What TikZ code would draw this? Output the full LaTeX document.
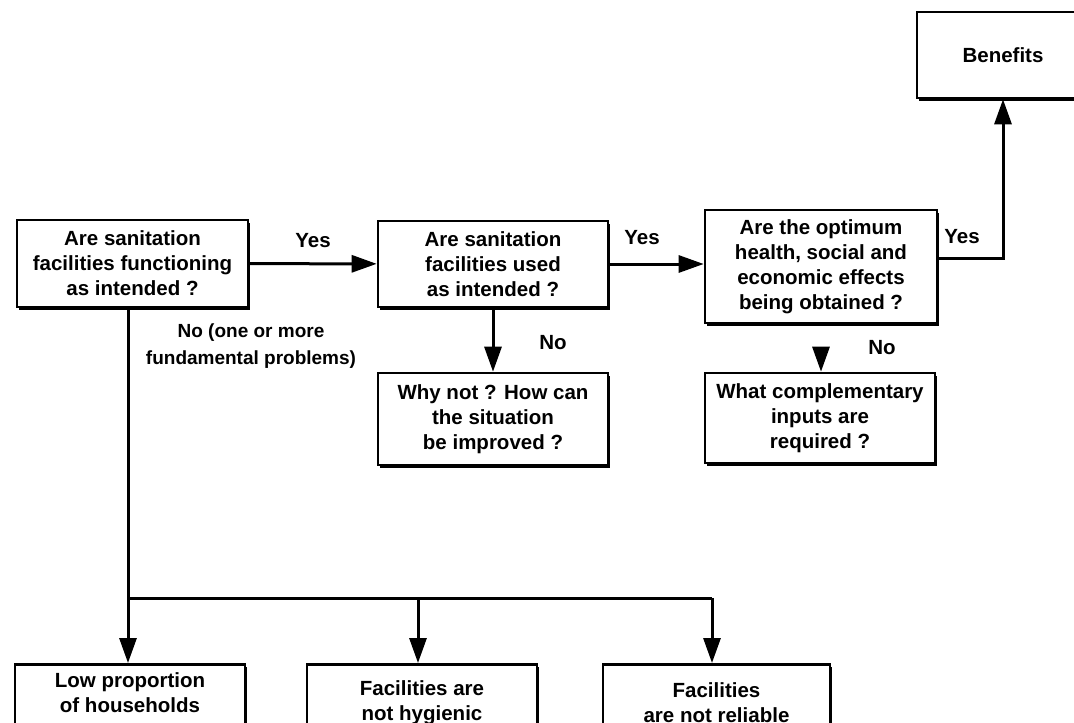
\documentclass[tikz,border=0pt]{standalone}
\usepackage{fontspec}
\setmainfont{Liberation Sans}
\usetikzlibrary{arrows.meta,shadows}

\begin{document}
\begin{tikzpicture}[x=1pt,y=-1pt,
  txt/.style={font=\bfseries\fontsize{20.5}{25}\selectfont,align=center,inner sep=0pt},
  box/.style={txt,draw,fill=white,line width=2.6pt,
    drop shadow={shadow xshift=2pt,shadow yshift=-3pt,fill=black,opacity=1}},
  bus/.style={line width=3pt},
  arr/.style={line width=3pt,-{Triangle[length=25pt,width=17pt]}}
]
\useasboundingbox (0,0) rectangle (1074,723);
\clip (0,0) rectangle (1074,723);

% decision boxes
\node[box,minimum width=231pt,minimum height=87pt] (A) at (132.5,263.5)
  {Are sanitation\\facilities functioning\\as intended ?};
\node[box,minimum width=230pt,minimum height=86pt] (B) at (493,264)
  {Are sanitation\\facilities used\\as intended ?};
\node[box,minimum width=232pt,minimum height=113pt] (C) at (821,266.5)
  {Are the optimum\\health, social and\\economic effects\\being obtained ?};
\node[box,minimum width=230pt,minimum height=92pt] (D) at (493,419)
  {Why not ? How can\\the situation\\be improved ?};
\node[box,minimum width=230pt,minimum height=90pt] (E) at (820,418)
  {What complementary\\inputs are\\required ?};
\node[box,minimum width=172pt,minimum height=86pt] (Ben) at (1003,55)
  {Benefits};

% problem boxes along the bottom edge
\node[box,anchor=north,minimum width=230pt,minimum height=120pt] (L1) at (130,663) {};
\node[txt] (t1) at (130,693) {Low proportion\\of households};
\node[box,anchor=north,minimum width=230pt,minimum height=120pt] (L2) at (422,663) {};
\node[txt] (t2) at (422,703) {Facilities are\\not hygienic};
\node[box,anchor=north,minimum width=227pt,minimum height=120pt] (L3) at (716.5,663) {};
\node[txt] (t3) at (716.5,703) {Facilities\\are not reliable};

% branch points of the distribution line
\coordinate (j0) at (128,598);
\coordinate (j1) at (418,598);
\coordinate (j2) at (712,598);

% connectors
\draw[arr] (A) -- (B);
\draw[arr] (B.east) -- (B.east -| C.west);
\draw[arr] ([yshift=8.5pt]C.east) -| (Ben.south);
\draw[arr] (B) -- (D);
\draw[arr,shorten <=26pt] (C.south) -- (C.south |- E.north);
\draw[bus] (A.south -| j0) -- (j0) -- (j2);
\draw[arr] (j0) -- (j0 |- L1.north);
\draw[arr] (j1) -- (j1 |- L2.north);
\draw[arr] (j2) -- (j2 |- L3.north);

% branch labels
\node[txt] (yes1) at (313,241) {Yes};
\node[txt] (yes2) at (642,238) {Yes};
\node[txt] (yes3) at (962,237) {Yes};
\node[txt] (no1) at (553,343) {No};
\node[txt] (no2) at (882,348) {No};
\node[txt,font=\bfseries\fontsize{19}{27}\selectfont] (no0) at (251,346.5)
  {No (one or more\\fundamental problems)};
\end{tikzpicture}
\end{document}
